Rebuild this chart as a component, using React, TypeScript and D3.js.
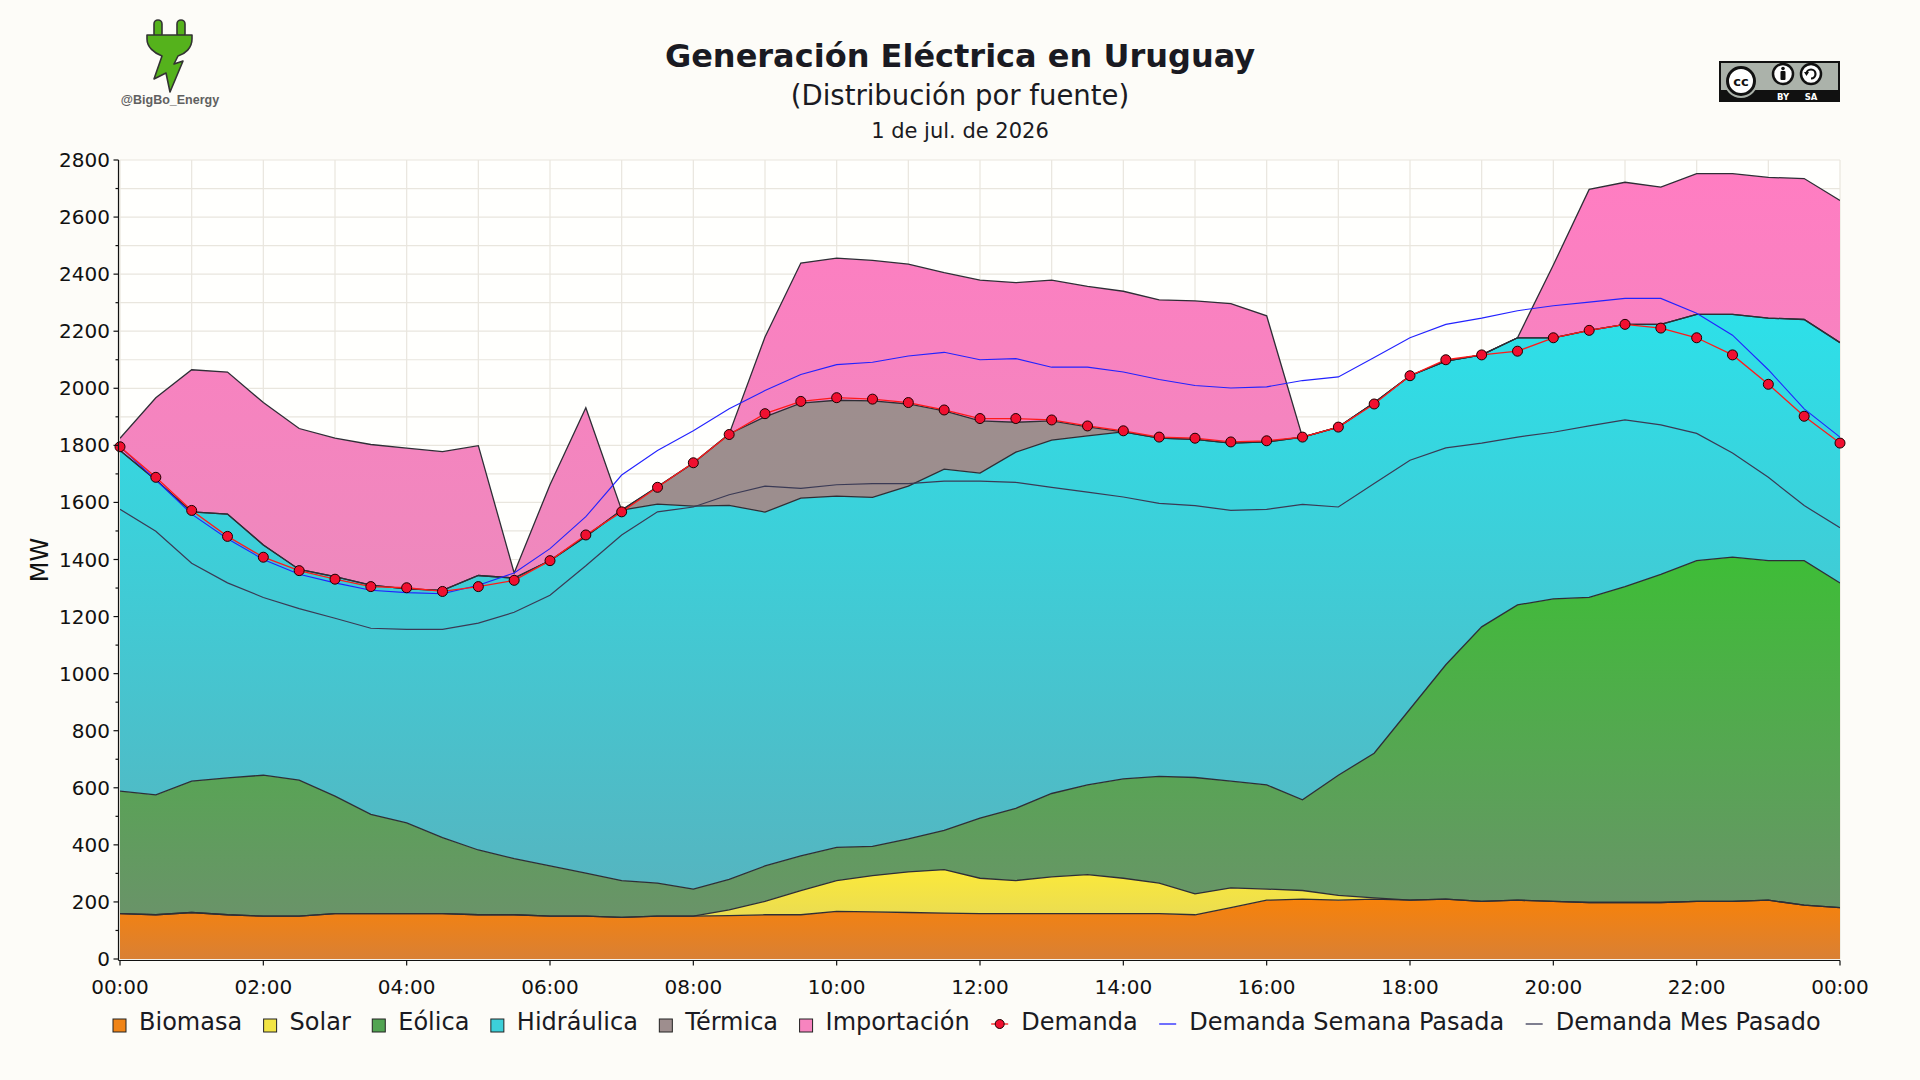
import { useEffect, useMemo } from 'react'
import * as d3 from 'd3'

// Valores cada 30 minutos, 00:00 -> 24:00 (49 puntos), en MW
const biomasa = [159, 155, 163, 155, 150, 150, 159, 159, 159, 159, 155, 155, 150, 150, 146, 150, 150, 152, 155, 155, 167, 165, 163, 161, 159, 159, 159, 159, 159, 159, 155, 180, 206, 210, 206, 210, 206, 210, 202, 206, 202, 198, 198, 198, 202, 202, 206, 189, 180]
const solar = [0, 0, 0, 0, 0, 0, 0, 0, 0, 0, 0, 0, 0, 0, 0, 0, 0, 20, 47, 85, 108, 127, 142, 152, 124, 116, 129, 137, 124, 107, 73, 69, 39, 30, 17, 4, 0, 0, 0, 0, 0, 0, 0, 0, 0, 0, 0, 0, 0]
const eolica = [429, 420, 460, 480, 494, 477, 412, 348, 318, 266, 227, 197, 176, 151, 129, 116, 95, 107, 124, 121, 116, 103, 116, 138, 211, 253, 292, 314, 348, 374, 408, 374, 365, 318, 421, 507, 670, 821, 962, 1035, 1060, 1069, 1107, 1150, 1194, 1206, 1190, 1207, 1138]
const hidraulica = [1194, 1104, 944, 924, 807, 738, 769, 803, 820, 867, 962, 983, 1070, 1180, 1298, 1328, 1342, 1311, 1240, 1254, 1231, 1223, 1236, 1266, 1209, 1248, 1238, 1223, 1216, 1185, 1185, 1185, 1202, 1271, 1220, 1228, 1168, 1064, 953, 936, 915, 936, 919, 876, 863, 851, 850, 845, 842]
const termica = [0, 0, 0, 0, 0, 0, 0, 0, 0, 0, 0, 0, 0, 0, 0, 61, 151, 250, 334, 333, 336, 338, 288, 204, 183, 105, 68, 32, 0, 0, 0, 0, 0, 0, 0, 0, 0, 0, 0, 0, 0, 0, 0, 0, 0, 0, 0, 0, 0]
const importacion = [43, 288, 498, 498, 499, 494, 485, 493, 493, 486, 455, 18, 266, 451, 0, 0, 0, 0, 280, 491, 498, 492, 490, 484, 493, 489, 493, 492, 493, 485, 485, 489, 442, 0, 0, 0, 0, 0, 0, 0, 255, 494, 498, 481, 493, 493, 493, 494, 498]

const demanda = [1795, 1688, 1572, 1481, 1408, 1361, 1331, 1305, 1301, 1288, 1305, 1327, 1396, 1486, 1567, 1653, 1739, 1838, 1911, 1954, 1967, 1962, 1950, 1924, 1894, 1894, 1889, 1868, 1851, 1829, 1825, 1812, 1816, 1829, 1864, 1945, 2044, 2100, 2117, 2130, 2177, 2203, 2224, 2211, 2177, 2117, 2014, 1902, 1808]
const semanaPasada = [1795, 1679, 1559, 1473, 1400, 1348, 1318, 1292, 1284, 1280, 1310, 1353, 1438, 1550, 1696, 1782, 1851, 1928, 1992, 2048, 2083, 2091, 2113, 2126, 2100, 2104, 2074, 2074, 2057, 2031, 2010, 2001, 2005, 2027, 2040, 2108, 2177, 2224, 2246, 2272, 2289, 2302, 2315, 2315, 2263, 2186, 2065, 1928, 1829]
const mesPasado = [1576, 1499, 1387, 1318, 1267, 1228, 1194, 1159, 1155, 1155, 1177, 1215, 1275, 1378, 1486, 1567, 1584, 1627, 1657, 1649, 1662, 1666, 1666, 1675, 1675, 1670, 1653, 1636, 1619, 1597, 1589, 1572, 1576, 1593, 1584, 1666, 1748, 1791, 1808, 1829, 1846, 1868, 1889, 1872, 1842, 1773, 1688, 1589, 1511]

const xTickLabels = ['00:00', '02:00', '04:00', '06:00', '08:00', '10:00', '12:00', '14:00', '16:00', '18:00', '20:00', '22:00', '00:00']
const yTicks = [0, 200, 400, 600, 800, 1000, 1200, 1400, 1600, 1800, 2000, 2200, 2400, 2600, 2800]

const fuentes = [
  { key: 'biomasa', label: 'Biomasa', values: biomasa, top: '#f7820a', bottom: '#d98034', swatch: '#f08417' },
  { key: 'solar', label: 'Solar', values: solar, top: '#fbe93a', bottom: '#eadc52', swatch: '#f3e545' },
  { key: 'eolica', label: 'Eólica', values: eolica, top: '#3ebd37', bottom: '#6a9369', swatch: '#52a452' },
  { key: 'hidraulica', label: 'Hidráulica', values: hidraulica, top: '#2de0e9', bottom: '#55b5c0', swatch: '#3ccfd9' },
  { key: 'termica', label: 'Térmica', values: termica, top: '#a08e8e', bottom: '#9a8e8e', swatch: '#9e8e8e' },
  { key: 'importacion', label: 'Importación', values: importacion, top: '#ff7dc2', bottom: '#ee89bd', swatch: '#f784bf' }
]

const W = 1920
const H = 1080
const left = 120
const right = 1840
const top = 160
const bottom = 959
const FONT = '"DejaVu Sans", sans-serif'

function measure(text: string, size: number) {
  const ctx = document.createElement('canvas').getContext('2d')
  if (!ctx) return text.length * size * 0.6
  ctx.font = `${size}px "DejaVu Sans"`
  return ctx.measureText(text).width
}

export default function App() {
  useEffect(() => {
    document.body.style.margin = '0'
    document.body.style.background = '#fdfcf8'
  }, [])

  const x = d3.scaleLinear([0, 48], [left, right])
  const y = d3.scaleLinear([0, 2800], [bottom, top])

  const rows = d3.range(49).map(i => {
    const r: { [k: string]: number } = {}
    fuentes.forEach(f => { r[f.key] = f.values[i] })
    return r
  })
  const layers = d3.stack().keys(fuentes.map(f => f.key))(rows)

  const area = d3.area<any>()
    .x((d, i) => x(i))
    .y0(d => y(d[0]))
    .y1(d => y(d[1]))
  const outline = d3.line<any>()
    .x((d, i) => x(i))
    .y(d => y(d[1]))
  const line = d3.line<number>()
    .x((d, i) => x(i))
    .y(d => y(d))

  const legendSize = 24
  const legend = useMemo(() => {
    const items = [
      ...fuentes.map(f => ({ label: f.label, kind: 'box', color: f.swatch })),
      { label: 'Demanda', kind: 'dot', color: '#ff1a1a' },
      { label: 'Demanda Semana Pasada', kind: 'line', color: '#2222ff' },
      { label: 'Demanda Mes Pasado', kind: 'line', color: '#3a3a55' }
    ]
    let cx = 113
    return items.map(it => {
      const sw = it.kind === 'box' ? 13 : 17
      const tw = measure(it.label, legendSize)
      const p = { ...it, x: cx, sw, tx: cx + sw + 13 }
      cx += sw + 13 + tw + 21.5
      return p
    })
  }, [])

  const legendY = 1022
  const axisX = left - 1.5
  const axisY = bottom + 1.5

  return (
    <svg width={W} height={H} style={{ display: 'block', background: '#fdfcf8' }} fontFamily={FONT}>
      <defs>
        {fuentes.map(f => (
          <linearGradient key={f.key} id={`g-${f.key}`} x1="0" y1="0" x2="0" y2="1">
            <stop offset="0" stopColor={f.top} />
            <stop offset="1" stopColor={f.bottom} />
          </linearGradient>
        ))}
        <clipPath id="plot">
          <rect x={left} y={top} width={right - left} height={bottom - top} />
        </clipPath>
      </defs>

      {/* título */}
      <text x={960} y={67} textAnchor="middle" fontSize={32} fontWeight="bold" fill="#1a1a22">Generación Eléctrica en Uruguay</text>
      <text x={960} y={105} textAnchor="middle" fontSize={27.5} fill="#1a1a22">(Distribución por fuente)</text>
      <text x={960} y={138} textAnchor="middle" fontSize={21} fill="#1a1a22">1 de jul. de 2026</text>

      {/* logo enchufe */}
      <g stroke="#333" strokeWidth={1.6} strokeLinejoin="round" fill="#55b21c">
        <rect x={154} y={20} width={8} height={18} rx={4} />
        <rect x={177} y={20} width={8} height={18} rx={4} />
        <path d="M147,35 H192 V39 C192,48 185,54 178,56 L174,64 L183,61 L170,92 L166,73 L154,79 L162,56 C154,53 147,47 147,39 Z" />
      </g>
      <text x={170} y={104} textAnchor="middle" fontSize={12.5} fontWeight="bold" fill="#606060" fontFamily='"Liberation Sans", Arial, sans-serif'>@BigBo_Energy</text>

      {/* licencia CC BY-SA */}
      <g>
        <rect x={1719} y={61} width={121} height={41} fill="#111" />
        <rect x={1721} y={63} width={117} height={27} fill="#abb2aa" />
        <circle cx={1741} cy={81} r={17} fill="#abb2aa" />
        <circle cx={1741} cy={81} r={13.5} fill="#fff" stroke="#111" strokeWidth={3} />
        <text x={1741} y={86} textAnchor="middle" fontSize={13} fontWeight="bold" fill="#111">cc</text>
        <circle cx={1783} cy={74} r={10} fill="#fff" stroke="#111" strokeWidth={2.5} />
        <circle cx={1783} cy={68.5} r={1.8} fill="#111" />
        <rect x={1780.5} y={71} width={5} height={9} rx={1} fill="#111" />
        <circle cx={1811} cy={74} r={10} fill="#fff" stroke="#111" strokeWidth={2.5} />
        <path d="M1806.5,74 A4.5,4.5 0 1 1 1811,78.5" fill="none" stroke="#111" strokeWidth={2.2} />
        <path d="M1804,72 L1806.5,76 L1809,72 Z" fill="#111" />
        <text x={1783} y={100} textAnchor="middle" fontSize={8.5} fontWeight="bold" fill="#fff">BY</text>
        <text x={1811} y={100} textAnchor="middle" fontSize={8.5} fontWeight="bold" fill="#fff">SA</text>
      </g>

      {/* área del gráfico */}
      <rect x={left} y={top} width={right - left} height={bottom - top} fill="#fffffd" />
      <g stroke="#e9e6de" strokeWidth={1.2}>
        {d3.range(0, 2801, 100).map(v => (
          <line key={`h${v}`} x1={left} x2={right} y1={y(v)} y2={y(v)} />
        ))}
        {d3.range(0, 49, 2).map(i => (
          <line key={`v${i}`} x1={x(i)} x2={x(i)} y1={top} y2={bottom} />
        ))}
      </g>

      <g clipPath="url(#plot)">
        {layers.map((l, i) => (
          <path key={l.key} d={area(l as any) || ''} fill={`url(#g-${fuentes[i].key})`} />
        ))}
        {layers.map(l => (
          <path key={`o${l.key}`} d={outline(l as any) || ''} fill="none" stroke="#2e2e36" strokeWidth={1.3} />
        ))}
        <path d={line(mesPasado) || ''} fill="none" stroke="#3a3a55" strokeWidth={1.2} />
        <path d={line(semanaPasada) || ''} fill="none" stroke="#2222ff" strokeWidth={1.1} />
        <path d={line(demanda) || ''} fill="none" stroke="#ff1a1a" strokeWidth={1.3} />
      </g>
      {demanda.map((v, i) => (
        <circle key={i} cx={x(i)} cy={y(v)} r={5} fill="#f01030" stroke="#1a0000" strokeWidth={1} />
      ))}

      {/* ejes */}
      <g stroke="#111" strokeWidth={1.2}>
        <line x1={axisX} x2={axisX} y1={top} y2={axisY} />
        <line x1={axisX} x2={right} y1={axisY} y2={axisY} />
        {d3.range(0, 2801, 100).map(v => (
          <line key={`yt${v}`} x1={axisX - (v % 200 === 0 ? 5 : 3)} x2={axisX} y1={y(v)} y2={y(v)} />
        ))}
        {xTickLabels.map((_, i) => (
          <line key={`xt${i}`} x1={x(i * 4)} x2={x(i * 4)} y1={axisY} y2={axisY + 5} />
        ))}
      </g>
      <g fontSize={20} fill="#111">
        {yTicks.map(v => (
          <text key={v} x={left - 10} y={y(v)} dy="0.35em" textAnchor="end">{v}</text>
        ))}
        {xTickLabels.map((t, i) => (
          <text key={i} x={x(i * 4)} y={987} dy="0.35em" textAnchor="middle">{t}</text>
        ))}
      </g>
      <text transform="translate(40,560) rotate(-90)" dy="0.35em" textAnchor="middle" fontSize={24} fill="#111">MW</text>

      {/* leyenda */}
      <g fontSize={legendSize} fill="#1a1a22">
        {legend.map(it => (
          <g key={it.label}>
            {it.kind === 'box' && (
              <rect x={it.x} y={legendY - 3} width={13} height={13} fill={it.color} stroke="#222" strokeWidth={1} />
            )}
            {it.kind !== 'box' && (
              <line x1={it.x} x2={it.x + it.sw} y1={legendY + 2} y2={legendY + 2} stroke={it.color} strokeWidth={1.3} />
            )}
            {it.kind === 'dot' && (
              <circle cx={it.x + it.sw / 2} cy={legendY + 2} r={4.5} fill="#f01030" stroke="#1a0000" strokeWidth={1} />
            )}
            <text x={it.tx} y={legendY} dy="0.35em">{it.label}</text>
          </g>
        ))}
      </g>
    </svg>
  )
}
